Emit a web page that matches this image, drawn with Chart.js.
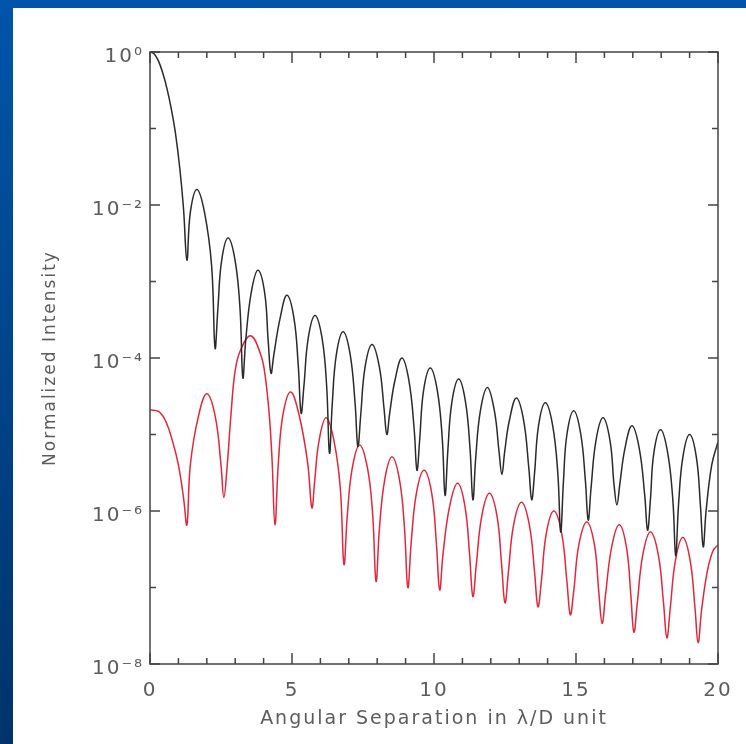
<!DOCTYPE html>
<html>
<head>
<meta charset="utf-8">
<script src="https://cdn.jsdelivr.net/npm/chart.js@4.4.0/dist/chart.umd.min.js"></script>
<style>
  html, body { margin: 0; padding: 0; }
  body {
    width: 746px; height: 744px; position: relative; overflow: hidden;
    background: linear-gradient(to bottom, #0055aa, #00336b);
  }
  #panel { position: absolute; left: 13px; top: 8px; right: 0; bottom: 0; background: #fff; }
  #chart { position: absolute; left: 0; top: 0; }
</style>
</head>
<body>
<div id="panel"></div>
<canvas id="chart" width="746" height="744"></canvas>
<script>
// black: unobstructed PSF, red: residual. one lobe per line
const blackAngle = [
  0, 0.15, 0.3, 0.45, 0.6, 0.75, 0.9, 1.05, 1.18,
  1.3, 1.42, 1.65, 1.92, 2.17,
  2.29, 2.39, 2.52, 2.75, 3.0, 3.17,
  3.27, 3.37, 3.56, 3.8, 4.04, 4.16,
  4.26, 4.36, 4.58, 4.82, 5.07, 5.22,
  5.32, 5.42, 5.57, 5.81, 6.06, 6.22,
  6.32, 6.42, 6.56, 6.8, 7.05, 7.22,
  7.32, 7.42, 7.57, 7.82, 8.08, 8.24,
  8.34, 8.44, 8.62, 8.87, 9.12, 9.3,
  9.4, 9.5, 9.63, 9.87, 10.12, 10.29,
  10.39, 10.49, 10.63, 10.87, 11.11, 11.27,
  11.37, 11.47, 11.63, 11.88, 12.13, 12.29,
  12.39, 12.49, 12.65, 12.9, 13.16, 13.34,
  13.44, 13.54, 13.68, 13.92, 14.18, 14.36,
  14.46, 14.56, 14.68, 14.92, 15.17, 15.33,
  15.43, 15.53, 15.7, 15.95, 16.2, 16.34,
  16.44, 16.54, 16.72, 16.97, 17.23, 17.42,
  17.52, 17.62, 17.74, 17.98, 18.23, 18.41,
  18.51, 18.61, 18.76, 19.0, 19.24, 19.38,
  19.48, 19.58, 19.78, 20];
const blackIntensity = [
  1, 0.94, 0.76, 0.53, 0.33, 0.18, 0.085, 0.03, 0.009,
  1.9e-3, 8e-3, 1.6e-2, 8e-3, 1.6e-3,
  1.35e-4, 4.4e-4, 1.85e-3, 3.7e-3, 1.85e-3, 4.4e-4,
  5.5e-5, 1.7e-4, 7e-4, 1.4e-3, 7e-4, 1.7e-4,
  6.3e-5, 1.1e-4, 3.3e-4, 6.6e-4, 3.3e-4, 8e-5,
  1.9e-5, 4.3e-5, 1.8e-4, 3.6e-4, 1.8e-4, 4.3e-5,
  5.7e-6, 2.6e-5, 1.1e-4, 2.2e-4, 1.1e-4, 2.6e-5,
  7e-6, 1.8e-5, 7.5e-5, 1.5e-4, 7.5e-5, 2.2e-5,
  1e-5, 1.9e-5, 5e-5, 1e-4, 5e-5, 1.2e-5,
  3.4e-6, 9e-6, 3.7e-5, 7.4e-5, 3.7e-5, 9e-6,
  1.6e-6, 6.4e-6, 2.65e-5, 5.3e-5, 2.65e-5, 6.4e-6,
  1.4e-6, 5e-6, 2e-5, 4.1e-5, 2e-5, 6e-6,
  3e-6, 6e-6, 1.5e-5, 3e-5, 1.5e-5, 3.6e-6,
  1.4e-6, 3.1e-6, 1.3e-5, 2.6e-5, 1.3e-5, 3.1e-6,
  5.3e-7, 2.5e-6, 1e-5, 2.05e-5, 1e-5, 2.5e-6,
  7.6e-7, 2e-6, 8.2e-6, 1.65e-5, 8.2e-6, 2.2e-6,
  1.2e-6, 2.2e-6, 6.5e-6, 1.3e-5, 6.5e-6, 1.6e-6,
  5.6e-7, 1.4e-6, 5.7e-6, 1.15e-5, 5.7e-6, 1.4e-6,
  2.6e-7, 1.2e-6, 5e-6, 1e-5, 5e-6, 1.2e-6,
  3.4e-7, 1e-6, 4e-6, 8e-6];

const redAngle = [
  0, 0.3, 0.55, 0.8, 1.0, 1.18,
  1.3, 1.42, 1.7, 2.0, 2.3, 2.5,
  2.6, 2.72, 2.85, 3.0, 3.2, 3.55, 3.9, 4.05, 4.2, 4.3,
  4.4, 4.52, 4.68, 4.95, 5.25, 5.55,
  5.7, 5.8, 5.95, 6.2, 6.48, 6.7,
  6.83, 6.95, 7.12, 7.38, 7.66, 7.84,
  7.96, 8.08, 8.26, 8.52, 8.79, 8.96,
  9.08, 9.2, 9.38, 9.65, 9.92, 10.08,
  10.2, 10.32, 10.55, 10.83, 11.09, 11.25,
  11.37, 11.49, 11.68, 11.95, 12.22, 12.38,
  12.5, 12.62, 12.8, 13.08, 13.36, 13.54,
  13.66, 13.78, 13.95, 14.22, 14.5, 14.68,
  14.8, 14.92, 15.1, 15.38, 15.65, 15.8,
  15.92, 16.04, 16.25, 16.52, 16.78, 16.93,
  17.04, 17.16, 17.35, 17.62, 17.9, 18.08,
  18.2, 18.32, 18.5, 18.76, 19.02, 19.19,
  19.3, 19.42, 19.62, 19.82, 20];
const redIntensity = [
  2.1e-5, 2.0e-5, 1.5e-5, 8e-6, 4e-6, 1.5e-6,
  6.6e-7, 4e-6, 1.7e-5, 3.4e-5, 1.7e-5, 4e-6,
  1.5e-6, 4e-6, 1.8e-5, 6.9e-5, 1.3e-4, 1.95e-4, 1.1e-4, 6e-5, 1.8e-5, 4.5e-6,
  6.6e-7, 4.3e-6, 1.8e-5, 3.6e-5, 1.8e-5, 4.3e-6,
  1.1e-6, 2.5e-6, 8.2e-6, 1.65e-5, 8.2e-6, 2e-6,
  2e-7, 9e-7, 3.6e-6, 7.3e-6, 3.6e-6, 9e-7,
  1.2e-7, 6e-7, 2.5e-6, 5.1e-6, 2.5e-6, 6e-7,
  1e-7, 4e-7, 1.7e-6, 3.4e-6, 1.7e-6, 4e-7,
  9.3e-8, 2.8e-7, 1.15e-6, 2.3e-6, 1.15e-6, 2.8e-7,
  7.6e-8, 2e-7, 8.5e-7, 1.7e-6, 8.5e-7, 2e-7,
  6.3e-8, 1.6e-7, 6.5e-7, 1.3e-6, 6.5e-7, 1.6e-7,
  5.6e-8, 1.2e-7, 5e-7, 1e-6, 5e-7, 1.2e-7,
  4.4e-8, 9e-8, 3.6e-7, 7.2e-7, 3.6e-7, 9e-8,
  3.4e-8, 8e-8, 3.3e-7, 6.6e-7, 3.3e-7, 8e-8,
  2.6e-8, 6.4e-8, 2.65e-7, 5.3e-7, 2.65e-7, 6.4e-8,
  2.2e-8, 5.4e-8, 2.25e-7, 4.5e-7, 2.25e-7, 5.4e-8,
  1.9e-8, 5e-8, 1.6e-7, 3e-7, 3.6e-7];

const xTickLabels = ['0', '5', '10', '15', '20'];
const yTickValues = [1e-8, 1e-7, 1e-6, 1e-5, 1e-4, 1e-3, 1e-2, 1e-1, 1];
const yTickLabels = ['10⁻⁸', '', '10⁻⁶', '', '10⁻⁴', '', '10⁻²', '', '10⁰'];

const TEXT_GRAY = '#5c5c5c';

function toPoints(xs, ys) {
  return xs.map((x, i) => ({ x: x, y: ys[i] }));
}

// box around the plot with ticks pointing inwards, like the original
const frameTicks = {
  id: 'frameTicks',
  beforeDraw(chart) {
    chart.ctx.letterSpacing = '2px';
  },
  afterDatasetsDraw(chart) {
    const { ctx, chartArea: a, scales: { x, y } } = chart;
    ctx.save();
    ctx.strokeStyle = '#444';
    ctx.lineWidth = 1.5;
    ctx.strokeRect(a.left, a.top, a.right - a.left, a.bottom - a.top);
    ctx.beginPath();
    x.ticks.forEach(t => {
      const px = x.getPixelForValue(t.value);
      const len = t.label ? 11 : 6;
      ctx.moveTo(px, a.bottom); ctx.lineTo(px, a.bottom - len);
      ctx.moveTo(px, a.top); ctx.lineTo(px, a.top + len);
    });
    y.ticks.forEach(t => {
      const py = y.getPixelForValue(t.value);
      const len = t.label ? 10 : 6;
      ctx.moveTo(a.left, py); ctx.lineTo(a.left + len, py);
      ctx.moveTo(a.right, py); ctx.lineTo(a.right - len, py);
    });
    ctx.stroke();
    ctx.restore();
  }
};

new Chart(document.getElementById('chart').getContext('2d'), {
  type: 'line',
  data: {
    datasets: [
      {
        label: 'PSF',
        data: toPoints(blackAngle, blackIntensity),
        borderColor: '#2a2a2a',
        borderWidth: 1.5,
        pointRadius: 0,
        tension: 0.4
      },
      {
        label: 'Residual',
        data: toPoints(redAngle, redIntensity),
        borderColor: '#e3263c',
        borderWidth: 1.5,
        pointRadius: 0,
        tension: 0.4
      }
    ]
  },
  options: {
    responsive: false,
    animation: false,
    layout: { padding: { left: 0, right: 28, top: 52, bottom: 0 } },
    plugins: {
      legend: { display: false },
      tooltip: { enabled: false }
    },
    scales: {
      x: {
        type: 'linear',
        min: 0,
        max: 20,
        afterFit: (scale) => { scale.height = 80; },
        grid: { display: false, drawTicks: false },
        border: { display: false },
        ticks: {
          stepSize: 1,
          autoSkip: false,
          maxRotation: 0,
          padding: 15,
          color: TEXT_GRAY,
          font: { family: 'DejaVu Sans', size: 20 },
          callback: (v, i) => (i % 5 === 0 ? xTickLabels[i / 5] : '')
        },
        title: {
          display: true,
          text: 'Angular Separation in λ/D unit',
          color: TEXT_GRAY,
          font: { family: 'DejaVu Sans', size: 19 },
          padding: { top: 0, bottom: 14 }
        }
      },
      y: {
        type: 'logarithmic',
        min: 1e-8,
        max: 1,
        afterFit: (scale) => { scale.width = 150; },
        afterBuildTicks: (scale) => { scale.ticks = yTickValues.map(v => ({ value: v })); },
        grid: { display: false, drawTicks: false },
        border: { display: false },
        ticks: {
          autoSkip: false,
          padding: 6,
          labelOffset: 5,
          color: TEXT_GRAY,
          font: { family: 'DejaVu Sans', size: 20 },
          callback: (v, i) => yTickLabels[i]
        },
        title: {
          display: true,
          text: 'Normalized Intensity',
          color: TEXT_GRAY,
          font: { family: 'DejaVu Sans', size: 17 },
          padding: { top: 40, bottom: 0 }
        }
      }
    }
  },
  plugins: [frameTicks]
});
</script>
</body>
</html>
